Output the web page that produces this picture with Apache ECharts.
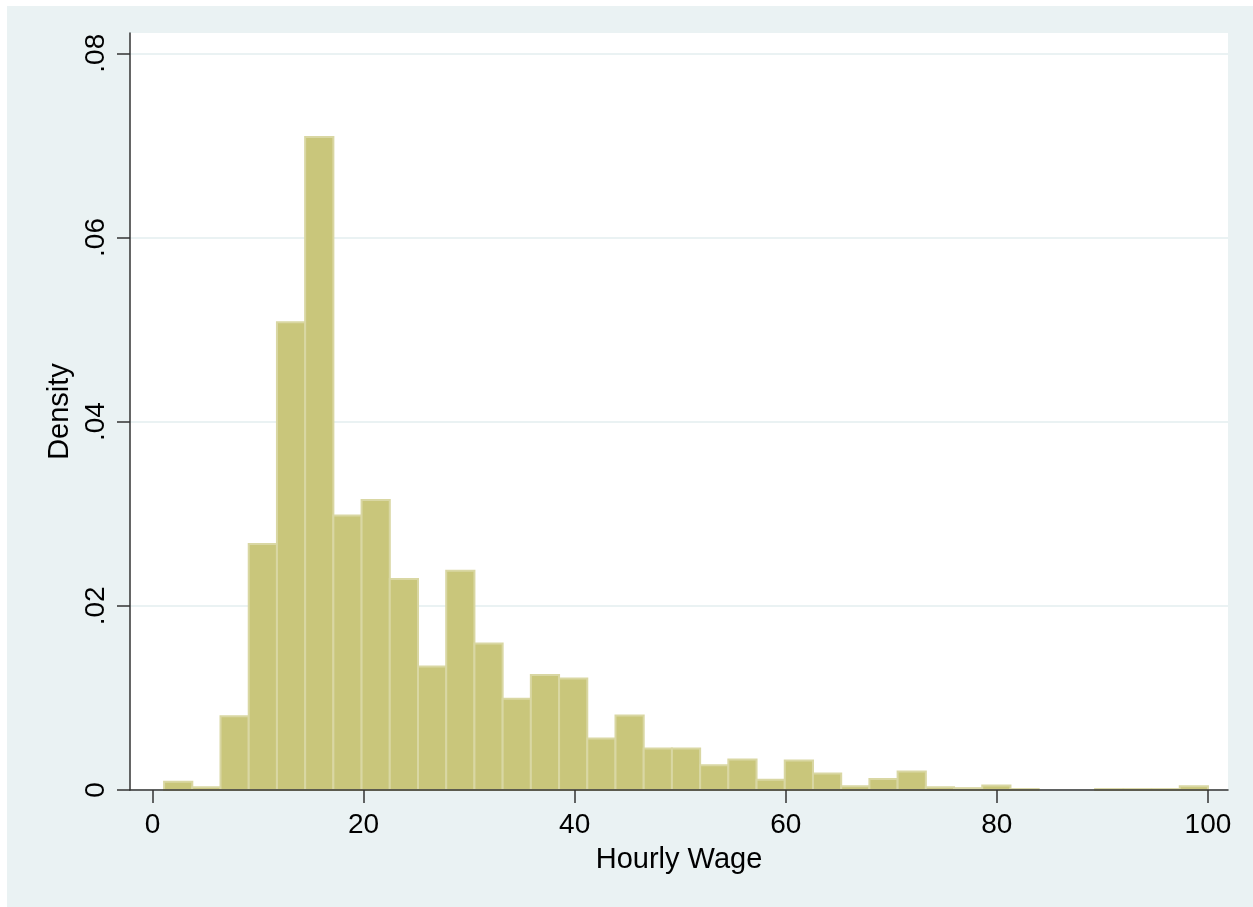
<!DOCTYPE html>
<html>
<head>
<meta charset="utf-8">
<script src="https://cdn.jsdelivr.net/npm/echarts@6/dist/echarts.min.js"></script>
<style>
  html, body { margin: 0; padding: 0; background: #ffffff; }
  #chart { position: absolute; left: 7px; top: 6px; width: 1246px; height: 901px; }
</style>
</head>
<body>
<div id="chart"></div>
<script>
// histogram bins: 37 bins of equal width starting at binStart
const binStart = 1.1;
const binWidth = 2.673;
const density = [
  0.0009, 0.0003, 0.0080, 0.0267, 0.0508, 0.0709, 0.0298, 0.0315, 0.0229, 0.0134,
  0.0238, 0.0159, 0.0099, 0.0125, 0.0121, 0.0056, 0.0081, 0.0045, 0.0045, 0.0027,
  0.0033, 0.0011, 0.0032, 0.0018, 0.0004, 0.0012, 0.0020, 0.0003, 0.0002, 0.0005,
  0.0001, 0, 0, 0.0001, 0.0001, 0.0001, 0.0004
];
const xTicks = [0, 20, 40, 60, 80, 100];
const yTicks = [0, 0.02, 0.04, 0.06, 0.08];

const bars = density.map((d, i) => [binStart + i * binWidth, binStart + (i + 1) * binWidth, d]);

const font = "'Liberation Sans', Arial, Helvetica, sans-serif";

const chart = echarts.init(document.getElementById("chart"));
chart.setOption({
  backgroundColor: "#EAF2F3",
  animation: false,
  grid: {
    left: 123, top: 27, width: 1098, height: 757,
    show: true, backgroundColor: "#ffffff", borderWidth: 0
  },
  xAxis: {
    type: "value",
    min: -2.13, max: 101.9,
    z: 5,
    name: "Hourly Wage",
    nameLocation: "middle",
    nameGap: 55,
    nameTextStyle: { fontFamily: font, fontSize: 29, color: "#000" },
    axisLine: { show: true, onZero: false, lineStyle: { color: "#333", width: 1.5 } },
    axisTick: { show: true, length: 13, customValues: xTicks, lineStyle: { color: "#333", width: 1.5 } },
    axisLabel: { customValues: xTicks, margin: 21, fontFamily: font, fontSize: 28, color: "#000" },
    splitLine: { show: false }
  },
  yAxis: {
    type: "value",
    min: 0, max: 0.0822,
    name: "Density",
    nameLocation: "middle",
    nameRotate: 90,
    nameGap: 54,
    nameTextStyle: { fontFamily: font, fontSize: 29, color: "#000" },
    axisLine: { show: true, onZero: false, lineStyle: { color: "#333", width: 1.5 } },
    axisTick: { show: true, length: 13, customValues: yTicks, lineStyle: { color: "#333", width: 1.5 } },
    axisLabel: {
      customValues: yTicks, rotate: 90, margin: 20,
      fontFamily: font, fontSize: 28, color: "#000",
      formatter: (v) => (v === 0 ? "0" : v.toFixed(2).replace(/^0/, ""))
    },
    splitLine: { show: true, lineStyle: { color: "#EAF2F3", width: 2 } }
  },
  series: [{
    type: "custom",
    data: bars,
    encode: { x: [0, 1], y: 2 },
    renderItem: (params, api) => {
      const h = api.value(2);
      if (!h) return null;
      const p0 = api.coord([api.value(0), h]);
      const p1 = api.coord([api.value(1), 0]);
      return {
        type: "rect",
        shape: { x: p0[0], y: p0[1], width: p1[0] - p0[0], height: p1[1] - p0[1] },
        style: { fill: "#C9C67B", stroke: "#D9D7A3", lineWidth: 2 }
      };
    }
  }]
});
</script>
</body>
</html>
